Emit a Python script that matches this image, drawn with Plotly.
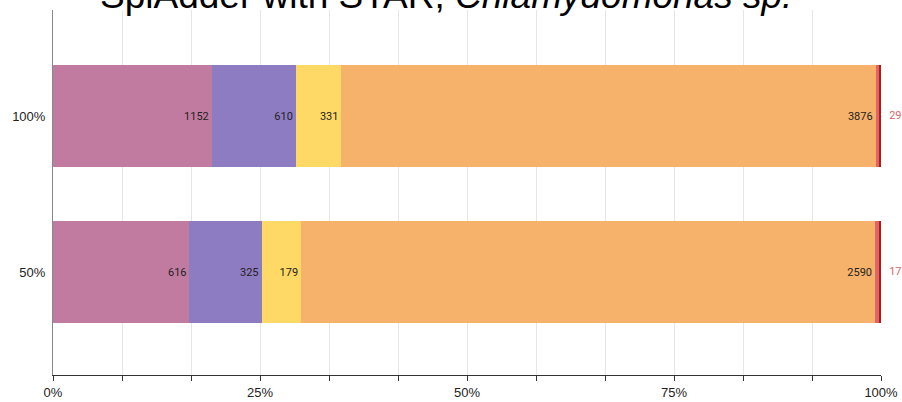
import plotly.graph_objects as go

# Datensätze (y-Kategorien) und Ereigniszahlen je Typ
samples = ["100%", "50%"]
event_types = ["alt_3prime", "alt_5prime", "exon_skip", "intron_retention", "mult_exon_skip", "mutex_exons"]
counts = {
    "alt_3prime": [1152, 616],
    "alt_5prime": [610, 325],
    "exon_skip": [331, 179],
    "intron_retention": [3876, 2590],
    "mult_exon_skip": [29, 17],
    "mutex_exons": [10, 10],
}
colors = ["#c27ba0", "#8e7cc3", "#ffd966", "#f6b26b", "#e06666", "#b31b1b"]
inside_labels = ["alt_3prime", "alt_5prime", "exon_skip", "intron_retention"]
outside_label = "mult_exon_skip"

x_tickvals = [0, 0.25, 0.5, 0.75, 1]
x_ticktext = ["0%", "25%", "50%", "75%", "100%"]

fig = go.Figure()
for name, col in zip(event_types, colors):
    vals = counts[name]
    fig.add_trace(go.Bar(
        name=name,
        y=samples,
        x=vals,
        orientation="h",
        marker=dict(color=col, line=dict(width=0)),
        text=[str(v) for v in vals] if name in inside_labels else None,
        textposition="inside",
        insidetextanchor="end",
        textfont=dict(family="Roboto", size=11, color="#222222"),
        constraintext="none",
        hoverinfo="x+name",
    ))

# Werte der schmalen Segmente rechts neben dem Balken (bei 100 %)
fig.add_trace(go.Scatter(
    x=[1] * len(samples),
    y=samples,
    mode="text",
    text=["   " + str(v) for v in counts[outside_label]],
    textposition="middle right",
    textfont=dict(family="Roboto", size=11, color="#e06666"),
    cliponaxis=False,
    hoverinfo="skip",
    showlegend=False,
))

# Titel (oben teilweise abgeschnitten wie im Original)
fig.add_annotation(
    x=0.475, y=1, xref="paper", yref="paper",
    text="SplAdder with STAR, <i>Chlamydomonas sp.</i>",
    showarrow=False, xanchor="center", yanchor="bottom", yshift=-8,
    font=dict(family="Liberation Sans", size=37, color="#000000"),
)

fig.update_layout(
    barmode="stack",
    barnorm="fraction",
    bargap=0.346,
    width=902,
    height=402,
    margin=dict(l=53, r=21, t=10, b=27, autoexpand=False),
    paper_bgcolor="white",
    plot_bgcolor="white",
    showlegend=False,
    font=dict(family="Liberation Sans", size=13, color="#222222"),
)

fig.update_xaxes(
    range=[0, 1],
    tickvals=x_tickvals,
    ticktext=x_ticktext,
    ticks="",
    ticklabelstandoff=5,
    showgrid=True,
    gridcolor="#e6e6e6",
    showline=True,
    linecolor="#333333",
    linewidth=1,
    zeroline=False,
    automargin=False,
    tickfont=dict(family="Liberation Sans", size=13, color="#222222"),
    minor=dict(dtick=1 / 12, tick0=0, ticks="outside", ticklen=5, tickcolor="#333333",
               showgrid=True, gridcolor="#e6e6e6"),
)
fig.update_yaxes(
    type="category",
    categoryorder="array",
    categoryarray=["50%", "100%"],
    range=[-0.66, 1.68],
    showline=True,
    linecolor="#888888",
    linewidth=1,
    showgrid=False,
    ticks="",
    automargin=False,
    ticklabelstandoff=4,
    tickfont=dict(family="Liberation Sans", size=13, color="#222222"),
)

# Seitenrand entfernen, damit die Figur genau ins Fenster passt
fig.write_html("out.html", config={"displayModeBar": False},
               post_script="document.body.style.margin='0';")
